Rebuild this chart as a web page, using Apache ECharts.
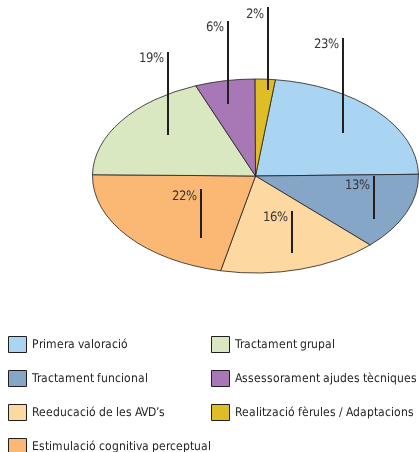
<!DOCTYPE html>
<html>
<head>
<meta charset="utf-8">
<script src="https://cdn.jsdelivr.net/npm/echarts@6/dist/echarts.min.js"></script>
<style>
  @font-face { font-family: 'NarrowA'; src: local('Liberation Sans Narrow'), local('LiberationSansNarrow'), local('LiberationSansNarrow-Regular'); }
  @font-face { font-family: 'NarrowB'; src: local('DejaVu Sans Condensed'), local('DejaVuSansCondensed'); }
  html, body { margin: 0; padding: 0; background: #fff; }
  #pieChart { width: 419px; height: 452px; }
</style>
</head>
<body>
<div id="pieChart"></div>
<script>
// categories in drawing order (clockwise from the top)
var categories = [
    'Primera valoració',
    'Tractament funcional',
    'Reeducació de les AVD’s',
    'Estimulació cognitiva perceptual',
    'Tractament grupal',
    'Assessorament ajudes tècniques',
    'Realització fèrules / Adaptacions'
];
var values = [23, 13, 16, 22, 19, 6, 2];
var colors = ['#a9d5f3', '#86a6c8', '#fdd8a0', '#fbb774', '#d9e8c0', '#a877b5', '#dfbd27'];

// ellipse geometry
var CX = 255.5, CY = 176, RX = 163, RY = 97;
var START_ANGLE = 83;
// label leader lines: [lineX, lineTop, lineBottom, textY]
var labelPos = [
    [343, 38, 133, 45],
    [374, 176, 219, 186],
    [292, 211, 253, 218],
    [201, 189, 238, 197],
    [168, 52, 135, 59],
    [228, 21, 104, 28],
    [268, 7, 90, 15]
];
var FONT = 'NarrowA, NarrowB, sans-serif';
var INK = '#231f20';

var total = values.reduce(function (a, b) { return a + b; }, 0);

function sliceRenderer(idx) {
    return function (params, api) {
        var before = 0;
        for (var k = 0; k < idx; k++) { before += values[k]; }
        var start = -START_ANGLE * Math.PI / 180 + before / total * Math.PI * 2;
        var end = start + api.value(0) / total * Math.PI * 2;
        var lp = labelPos[idx];
        return {
            type: 'group',
            children: [{
                type: 'sector',
                x: CX,
                y: CY,
                scaleY: RY / RX,
                shape: { cx: 0, cy: 0, r0: 0, r: RX, startAngle: start, endAngle: end, clockwise: true },
                style: { fill: api.visual('color'), stroke: INK, lineWidth: 1, strokeNoScale: true }
            }, {
                type: 'line',
                z2: 10,
                shape: { x1: lp[0], y1: lp[1], x2: lp[0], y2: lp[2] },
                style: { stroke: INK, lineWidth: 2 }
            }, {
                type: 'text',
                z2: 10,
                x: lp[0] - 4,
                y: lp[3],
                style: {
                    text: api.value(0) + '%',
                    align: 'right',
                    verticalAlign: 'middle',
                    fill: '#3a3536',
                    font: '12.5px ' + FONT
                }
            }]
        };
    };
}

var series = categories.map(function (name, i) {
    return {
        type: 'custom',
        name: name,
        coordinateSystem: 'none',
        itemStyle: { color: colors[i], borderColor: INK, borderWidth: 1 },
        data: [[values[i]]],
        renderItem: sliceRenderer(i),
        silent: true
    };
});

function makeLegend(names, left) {
    return {
        data: names,
        orient: 'vertical',
        left: left,
        top: 336,
        height: 160,
        padding: 0,
        icon: 'rect',
        itemWidth: 18,
        itemHeight: 16,
        itemGap: 17,
        selectedMode: false,
        itemStyle: { borderColor: INK, borderWidth: 1 },
        textStyle: { fontSize: 12, lineHeight: 16, fontFamily: FONT, color: INK, padding: [0, 0, 0, 0] }
    };
}

function draw() {
    var chart = echarts.init(document.getElementById('pieChart'));
    chart.setOption({
        animation: false,
        legend: [
            makeLegend(categories.slice(0, 4), 8),
            makeLegend(categories.slice(4), 211)
        ],
        series: series
    });
}

Promise.all([
    document.fonts.load('13px NarrowA'),
    document.fonts.load('13px NarrowB')
]).then(draw, draw);
</script>
</body>
</html>
